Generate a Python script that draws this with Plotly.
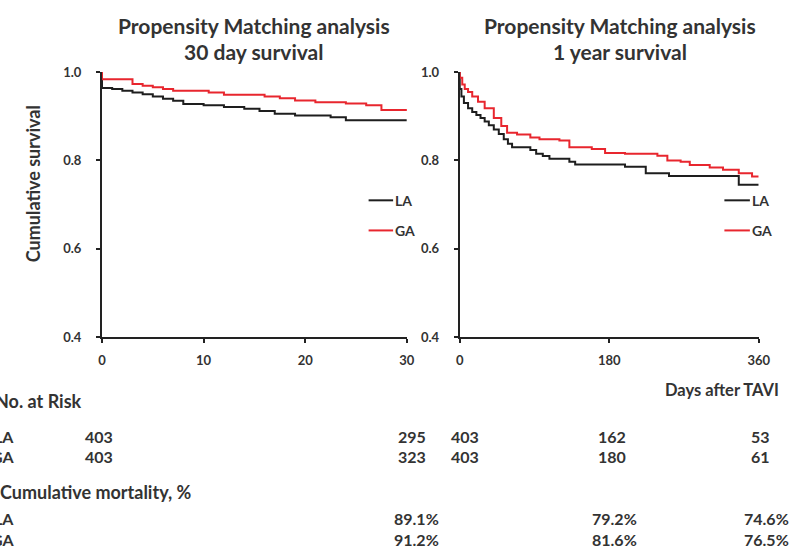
import plotly.graph_objects as go

# ---------------- data ----------------
groups = ["LA", "GA"]

# 30-day Kaplan-Meier (days, survival)
d30_la_t = [0, 0, 1, 2, 3, 4, 5, 6, 7, 8, 10, 12, 14, 15.5, 17, 19, 22.5, 24, 30]
d30_la_s = [1.0, 0.964, 0.962, 0.958, 0.954, 0.950, 0.945, 0.940, 0.935, 0.928, 0.925, 0.921,
            0.917, 0.912, 0.906, 0.902, 0.898, 0.891, 0.891]
d30_ga_t = [0, 0, 3, 4, 5, 6, 7, 10.5, 12, 16, 17.5, 19, 21, 24, 26, 27.5, 30]
d30_ga_s = [1.0, 0.984, 0.973, 0.969, 0.966, 0.962, 0.958, 0.954, 0.949, 0.945, 0.941, 0.936,
            0.932, 0.929, 0.925, 0.914, 0.912]

# 1-year Kaplan-Meier (days, survival)
y1_la_t = [0, 0, 2, 5, 10, 15, 20, 25, 30, 35, 41, 47, 53, 58, 63, 85, 92, 100, 108, 132, 139,
           199, 224, 252, 336, 360]
y1_la_s = [1.0, 0.962, 0.945, 0.930, 0.918, 0.910, 0.903, 0.896, 0.888, 0.880, 0.870, 0.860,
           0.848, 0.838, 0.830, 0.824, 0.815, 0.810, 0.804, 0.797, 0.791, 0.786, 0.771, 0.765,
           0.745, 0.745]
y1_ga_t = [0, 0, 3, 6, 10, 15, 22, 30, 41, 50, 57, 69, 85, 96, 120, 132, 159, 175, 199, 238,
           250, 266, 277, 301, 317, 336, 352, 360]
y1_ga_s = [1.0, 0.987, 0.972, 0.962, 0.955, 0.945, 0.933, 0.918, 0.896, 0.878, 0.863, 0.859,
           0.852, 0.848, 0.845, 0.830, 0.826, 0.817, 0.815, 0.811, 0.800, 0.797, 0.790, 0.784,
           0.779, 0.771, 0.764, 0.764]

y_ticks = [0.4, 0.6, 0.8, 1.0]
x30_ticks = [0, 10, 20, 30]
x1y_ticks = [0, 180, 360]

# numbers at risk
risk_30_days = [0, 30]
risk_30 = {"LA": [403, 295], "GA": [403, 323]}
risk_1y_days = [0, 180, 360]
risk_1y = {"LA": [403, 162, 53], "GA": [403, 180, 61]}

# cumulative mortality table values
mort_days_30 = [30]
mort_30 = {"LA": ["89.1%"], "GA": ["91.2%"]}
mort_days_1y = [180, 360]
mort_1y = {"LA": ["79.2%", "74.6%"], "GA": ["81.6%", "76.5%"]}

colors = {"LA": "#1e1e1e", "GA": "#e8262e"}

# ---------------- figure ----------------
W, H = 805, 558
def px(x):
    return x / W
def py(y):
    return 1 - y / H

FONT = "Lato"
TXT = "#333333"

fig = go.Figure()
fig.add_trace(go.Scatter(x=d30_la_t, y=d30_la_s, mode="lines", line=dict(color=colors["LA"], width=2, shape="hv"),
                         xaxis="x", yaxis="y", name="LA", showlegend=False))
fig.add_trace(go.Scatter(x=d30_ga_t, y=d30_ga_s, mode="lines", line=dict(color=colors["GA"], width=2, shape="hv"),
                         xaxis="x", yaxis="y", name="GA", showlegend=False))
fig.add_trace(go.Scatter(x=y1_la_t, y=y1_la_s, mode="lines", line=dict(color=colors["LA"], width=2, shape="hv"),
                         xaxis="x2", yaxis="y2", name="LA", showlegend=False))
fig.add_trace(go.Scatter(x=y1_ga_t, y=y1_ga_s, mode="lines", line=dict(color=colors["GA"], width=2, shape="hv"),
                         xaxis="x2", yaxis="y2", name="GA", showlegend=False))

tick_font = dict(family=FONT, size=13, color=TXT, weight="bold")
axis_common = dict(showgrid=False, zeroline=False, showline=True, linecolor="#222222", linewidth=2,
                   ticks="outside", ticklen=4, tickwidth=1.5, tickcolor="#222222", tickfont=tick_font)

ydom = [py(339), py(66)]
fig.update_layout(
    autosize=True, margin=dict(l=0, r=0, t=0, b=0),
    paper_bgcolor="white", plot_bgcolor="white",
    font=dict(family=FONT, color=TXT),
    xaxis=dict(domain=[px(100), px(411)], range=[0, 30], tickvals=x30_ticks, anchor="y",
               ticklabelstandoff=6, **axis_common),
    yaxis=dict(domain=ydom, range=[0.4, 1.0], tickvals=y_ticks, tickformat=".1f", anchor="x",
               ticklabelstandoff=12, **axis_common),
    xaxis2=dict(domain=[px(465), px(770)], range=[0, 360], tickvals=x1y_ticks, anchor="y2",
                ticklabelstandoff=6, **axis_common),
    yaxis2=dict(domain=ydom, range=[0.4, 1.0], tickvals=y_ticks, tickformat=".1f", anchor="x2",
                ticklabelstandoff=12, **axis_common),
)

ann = []
shapes = []
title_font = dict(family=FONT, size=21, color=TXT, weight="bold")
for cx, sub in [(255, "30 day survival"), (628, "1 year survival")]:
    ann.append(dict(text="Propensity Matching analysis", x=px(cx), y=py(18), xref="paper", yref="paper",
                    showarrow=False, font=title_font, xanchor="center", yanchor="middle"))
    ann.append(dict(text=sub, x=px(cx), y=py(45), xref="paper", yref="paper",
                    showarrow=False, font=title_font, xanchor="center", yanchor="middle"))

ann.append(dict(text="Cumulative survival", x=px(29), y=py(181), xref="paper", yref="paper", textangle=-90,
                showarrow=False, font=dict(family=FONT, size=18, color=TXT, weight="bold"),
                xanchor="center", yanchor="middle"))

# legends
leg_font = dict(family=FONT, size=14, color=TXT, weight="bold")
for x0, x1 in [(372, 397), (735, 761)]:
    for g, yy in zip(groups, [198, 229]):
        shapes.append(dict(type="line", xref="paper", yref="paper", x0=px(x0), x1=px(x1), y0=py(yy), y1=py(yy),
                           line=dict(color=colors[g], width=2)))
        ann.append(dict(text=g, x=px(x1), y=py(yy), xref="paper", yref="paper", showarrow=False,
                        font=leg_font, xanchor="left", yanchor="middle"))

ann.append(dict(text="Days after TAVI", x=px(733), y=py(393), xref="paper", yref="paper", showarrow=False,
                font=dict(family=FONT, size=16.5, color=TXT, weight="bold"), xanchor="center", yanchor="middle"))

head_font = dict(family=FONT, size=18, color=TXT, weight="bold")
num_font = dict(family=FONT, size=16, color=TXT, weight="bold")
ann.append(dict(text="No. at Risk", x=px(82), y=py(405), xref="paper", yref="paper", showarrow=False,
                font=head_font, xanchor="right", yanchor="middle"))
ann.append(dict(text="Cumulative mortality, %", x=px(194), y=py(498), xref="paper", yref="paper", showarrow=False,
                font=head_font, xanchor="right", yanchor="middle"))

risk_rows = {"LA": 441, "GA": 462}
mort_rows = {"LA": 526, "GA": 547}
for g in groups:
    for row in (risk_rows[g], mort_rows[g]):
        ann.append(dict(text=g, x=px(12), y=py(row), xref="paper", yref="paper",
                        showarrow=False, font=num_font, xanchor="right", yanchor="middle"))
    for d, v, sh in zip(risk_30_days, risk_30[g], [-3, 5]):
        ann.append(dict(text=str(v), x=d, xref="x", y=py(risk_rows[g]), yref="paper", xshift=sh,
                        showarrow=False, font=num_font, xanchor="center", yanchor="middle"))
    for d, v, sh in zip(risk_1y_days, risk_1y[g], [5, 3, 2]):
        ann.append(dict(text=str(v), x=d, xref="x2", y=py(risk_rows[g]), yref="paper", xshift=sh,
                        showarrow=False, font=num_font, xanchor="center", yanchor="middle"))
    for d, v, sh in zip(mort_days_30, mort_30[g], [10]):
        ann.append(dict(text=v, x=d, xref="x", y=py(mort_rows[g]), yref="paper", xshift=sh,
                        showarrow=False, font=num_font, xanchor="center", yanchor="middle"))
    for d, v, sh in zip(mort_days_1y, mort_1y[g], [5, 8]):
        ann.append(dict(text=v, x=d, xref="x2", y=py(mort_rows[g]), yref="paper", xshift=sh,
                        showarrow=False, font=num_font, xanchor="center", yanchor="middle"))

fig.update_layout(annotations=ann, shapes=shapes)
fig.write_html("out.html", default_width="100vw", default_height="100vh",
               config={"displayModeBar": False},
               post_script="document.body.style.margin='0';document.body.style.overflow='hidden';")
